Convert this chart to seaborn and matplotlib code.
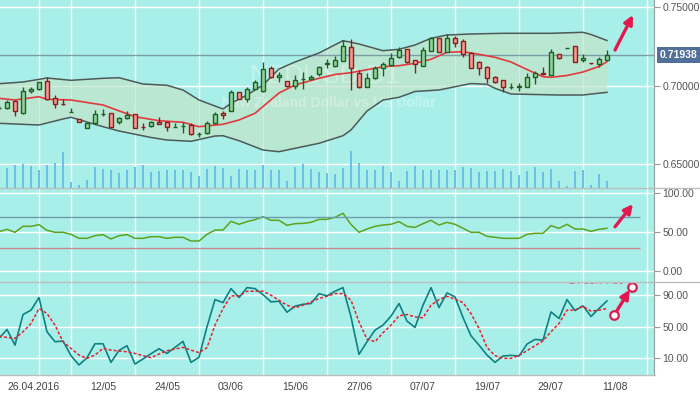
import numpy as np
import matplotlib
matplotlib.use("Agg")
import matplotlib.pyplot as plt
import seaborn as sns
from matplotlib.lines import Line2D

# NZDUSD daily candles, bar -1 is 25.04.2016, one bar per trading day
opens = [0.68560, 0.68563, 0.69027, 0.68245, 0.69644, 0.69772, 0.70280, 0.69199, 0.68830, 0.68320,
         0.67864, 0.67310, 0.67609, 0.68210, 0.68245, 0.67673, 0.67927, 0.68182, 0.67400, 0.67438,
         0.67673, 0.67692, 0.67385, 0.67430, 0.67520, 0.66920, 0.66973, 0.67609, 0.68245, 0.68410,
         0.69581, 0.69174, 0.69772, 0.69644, 0.71107, 0.70535, 0.70280, 0.69962, 0.70400, 0.70446,
         0.70747, 0.71410, 0.71234, 0.71552, 0.72443, 0.70789, 0.69937, 0.70471, 0.71107, 0.71298,
         0.71807, 0.72316, 0.71616, 0.71273, 0.72226, 0.73015, 0.72163, 0.73015, 0.72824, 0.72099,
         0.71527, 0.71209, 0.70573, 0.70344, 0.69930, 0.69935, 0.69937, 0.70535, 0.70808, 0.70662,
         0.72017, 0.72380, 0.72506, 0.71616, 0.71430, 0.71362, 0.71654]
highs = [0.68747, 0.69091, 0.69091, 0.69899, 0.69899, 0.70260, 0.70535, 0.69409, 0.69174, 0.68563,
         0.67880, 0.67640, 0.68455, 0.68538, 0.68260, 0.68029, 0.68410, 0.68200, 0.67647, 0.67775,
         0.68029, 0.67710, 0.67647, 0.67692, 0.67609, 0.67056, 0.67736, 0.68328, 0.68372, 0.69727,
         0.69590, 0.69899, 0.70363, 0.71508, 0.71253, 0.70853, 0.70300, 0.70700, 0.70872, 0.70681,
         0.71273, 0.71680, 0.71889, 0.72907, 0.72971, 0.70999, 0.70827, 0.71253, 0.71508, 0.72061,
         0.72443, 0.72330, 0.71630, 0.72481, 0.73117, 0.73040, 0.73270, 0.73161, 0.72952, 0.72120,
         0.71540, 0.71253, 0.70617, 0.70360, 0.70153, 0.70153, 0.70789, 0.70935, 0.71209, 0.72335,
         0.72030, 0.72410, 0.72520, 0.71997, 0.71440, 0.71807, 0.72271]
lows = [0.68455, 0.68519, 0.68092, 0.68230, 0.69555, 0.69750, 0.69120, 0.68601, 0.68773, 0.68310,
        0.67660, 0.67290, 0.67590, 0.68092, 0.67380, 0.67546, 0.67883, 0.67290, 0.67183, 0.67393,
        0.67546, 0.67100, 0.67355, 0.66973, 0.66895, 0.66757, 0.66960, 0.67590, 0.67864, 0.68400,
        0.69160, 0.68983, 0.69760, 0.69630, 0.70471, 0.70255, 0.69945, 0.69772, 0.69772, 0.70363,
        0.70617, 0.71107, 0.71220, 0.71540, 0.69727, 0.69835, 0.69899, 0.70427, 0.70617, 0.71280,
        0.71790, 0.71463, 0.70827, 0.71260, 0.72210, 0.72150, 0.72150, 0.72481, 0.71807, 0.71130,
        0.70700, 0.70153, 0.70200, 0.69600, 0.69810, 0.69644, 0.69899, 0.70090, 0.70710, 0.70650,
        0.71730, 0.72370, 0.71489, 0.71527, 0.71410, 0.71171, 0.71616]
closes = [0.68600, 0.68945, 0.68410, 0.69644, 0.69791, 0.70236, 0.69136, 0.68818, 0.68810, 0.68335,
          0.67673, 0.67609, 0.68182, 0.68230, 0.67393, 0.67946, 0.68137, 0.67310, 0.67385, 0.67673,
          0.67584, 0.67393, 0.67400, 0.67445, 0.66910, 0.66935, 0.67609, 0.68201, 0.68118, 0.69581,
          0.69174, 0.69772, 0.70236, 0.71044, 0.70535, 0.70662, 0.69962, 0.70344, 0.70415, 0.70573,
          0.71171, 0.71425, 0.71616, 0.72506, 0.71107, 0.69899, 0.70471, 0.71107, 0.71362, 0.71743,
          0.72252, 0.71508, 0.71362, 0.72271, 0.73015, 0.72163, 0.73015, 0.72735, 0.71997, 0.71145,
          0.71145, 0.70509, 0.70217, 0.69937, 0.69940, 0.69950, 0.70535, 0.70789, 0.70726, 0.72125,
          0.71743, 0.72400, 0.71527, 0.71743, 0.71420, 0.71680, 0.71938]
tick_volume = [0, 20, 22.7, 24.3, 21.7, 18.3, 23.3, 25, 36, 5.7, 3.3,
               8.3, 20.7, 19.3, 18.3, 15, 18.3, 20.7, 22.7, 16.3, 16.7,
               18.3, 18.3, 18.3, 16.3, 12.3, 19.3, 21.7, 20, 11.7, 19.3,
               17.7, 17.7, 22.7, 18.3, 18.3, 7.3, 20.7, 24.3, 19.3, 16.3,
               14.7, 14, 20, 37.3, 25, 17.7, 18.3, 21.7, 15.7, 6.7,
               17.3, 21.7, 18.3, 17.7, 17.7, 18.3, 18.3, 20.7, 20, 15.7,
               16.7, 16.7, 19.3, 16.7, 12.7, 16.7, 20.7, 16, 19.3, 6.7,
               2, 16.7, 17.7, 2.7, 14, 6.7]

# Bollinger bands, read at the bars where they bend
upper_bars = [-1, 2, 5, 8, 12, 14, 17, 20, 22, 24, 27, 28, 30, 32, 34, 36, 39, 42, 44, 47,
              49, 51, 53, 55, 58, 62, 68, 72, 73, 75]
upper_band = [0.70128, 0.70236, 0.70490, 0.70344, 0.70471, 0.70509, 0.70109, 0.70026, 0.69727, 0.69091,
              0.68519, 0.68881, 0.69409, 0.70045, 0.71063, 0.71508, 0.72080, 0.72863, 0.72653, 0.72227,
              0.72316, 0.72589, 0.73015, 0.73225, 0.73289, 0.73333, 0.73333, 0.73397, 0.73257, 0.72875]
mid_bars = [-1, 1, 4, 5, 8, 12, 16, 19, 22, 24, 27, 29, 31, 34, 36, 39, 41, 43, 47, 49,
            51, 53, 55, 57, 59, 61, 63, 65, 67, 68, 70, 72, 74, 75]
mid_band = [0.69199, 0.69091, 0.69301, 0.69136, 0.69091, 0.68773, 0.68029, 0.67775, 0.67673, 0.67393,
            0.67546, 0.67819, 0.68245, 0.69536, 0.70045, 0.70471, 0.70713, 0.70827, 0.71209, 0.71273,
            0.71425, 0.71680, 0.72125, 0.72163, 0.71997, 0.71807, 0.71508, 0.71031, 0.70573, 0.70535,
            0.70649, 0.70872, 0.71222, 0.71527]
lower_bars = [-1, 4, 7, 8, 12, 14, 18, 20, 23, 26, 27, 29, 32, 34, 36, 39, 42, 43, 45, 47,
              49, 51, 54, 58, 60, 61, 63, 69, 72, 75]
lower_band = [0.67609, 0.67501, 0.67883, 0.67991, 0.67393, 0.67119, 0.66706, 0.66547, 0.66464, 0.66801,
              0.66820, 0.66503, 0.65911, 0.65803, 0.66019, 0.66337, 0.66820, 0.67183, 0.68390, 0.69091,
              0.69263, 0.69632, 0.69727, 0.70140, 0.70090, 0.69835, 0.69473, 0.69409, 0.69409, 0.69581]

rsi = [50.8, 53.8, 50, 57.6, 57.6, 59.7, 52.5, 50, 50, 47.4, 42.3, 42.3, 45.7, 47, 41.5, 45.7,
       47, 42.3, 42.3, 44.4, 44.4, 42.3, 43.6, 43.6, 38.9, 38.9, 47.4, 52.9, 52.9, 64, 60.2, 63.6,
       66.1, 69.9, 65.3, 65.3, 58.9, 61, 61.4, 62.7, 66.5, 66.5, 69.1, 74.2, 60, 50, 54.2, 57.6,
       59.3, 60.2, 63.6, 57.6, 56.3, 61, 65.3, 59.3, 62.7, 60.2, 55.1, 50, 50, 44.9, 43.6, 42.3,
       42.3, 42.3, 47.4, 48.7, 48.7, 58.5, 55.1, 60.2, 54.2, 54.2, 51.2, 53.8, 55.1]
stoch_k = [35.3, 46.6, 26.8, 65.6, 71.1, 87.1, 43.7, 31.1, 31.9, 13.4, 1.6, 10.8, 28.5, 28.5, 4.9,
           20.1, 26, 2.8, 9.2, 15.9, 22.2, 16.3, 23.9, 31.5, 4.9, 11.3, 50, 84.5, 80.7, 98.4, 87.1,
           99.7, 98.4, 90.8, 81.6, 82.4, 68.5, 76.1, 78.6, 79.5, 92.1, 89.2, 95.1, 99.7, 62.6, 15.1,
           31.1, 45.8, 52.1, 63.5, 79.5, 57.2, 49.2, 77.4, 99.7, 74.4, 93, 87.9, 61.8, 38.6, 26.8,
           14.2, 4.9, 12.9, 13.8, 12.9, 28.1, 34, 33.2, 68.9, 60.5, 84.5, 70.6, 76.5, 63.1, 73.2, 82.8]
stoch_d = [38.2, 36.5, 35.3, 43.7, 54.2, 73.2, 66.8, 52.1, 31.1, 22.6, 14.2, 10, 14.2, 22.6, 20.5,
           19.3, 18.4, 16.3, 13.4, 10.8, 15.5, 19.7, 21.8, 23.9, 20.5, 17.2, 23.5, 52.1, 73.2, 89.2,
           89.2, 95.1, 95.1, 95.1, 90, 83.7, 77.4, 74, 77.4, 81.6, 85.8, 88.7, 92.1, 92.1, 83.7, 56.3,
           34.4, 31.1, 42.4, 52.1, 63.9, 65.6, 62.6, 61.4, 77.4, 84.5, 88.7, 85, 80.7, 66.8, 47.9,
           23.9, 13.4, 10, 10, 13.8, 19.7, 26, 32.3, 43.7, 54.2, 71.1, 71.1, 76.1, 69.8, 71.1, 73.2]

date_ticks = [0, 12, 20, 28, 36, 44, 52, 60, 68, 76]
date_labels = ["26.04.2016", "12/05", "24/05", "03/06", "15/06", "27/06", "07/07", "19/07", "29/07", "11/08"]

BG = "#a9efe9"
UP_FILL, UP_EDGE = "#8fd59b", "#1f5f24"
DN_FILL, DN_EDGE = "#f59a8e", "#8a1f1f"
ARROW = "#e0194f"

plt.rcParams["font.family"] = ["Liberation Sans", "DejaVu Sans"]

W, H = 700, 394
fig = plt.figure(figsize=(W / 100, H / 100), dpi=100)
fig.patch.set_facecolor("white")


def panel(y0, y1, **kw):
    return fig.add_axes([0, 1 - y1 / H, 654 / W, (y1 - y0) / H], **kw)


ax = panel(0, 188)
ax_rsi = panel(188, 282, sharex=ax)
ax_st = panel(282, 375, sharex=ax)

bars = np.arange(-1, len(closes) - 1)
o, h, l, c = map(np.array, (opens, highs, lows, closes))
up = c >= o

# bands
ax.fill(np.r_[upper_bars, lower_bars[::-1]], np.r_[upper_band, lower_band[::-1]],
        color="#c2e3c6", alpha=0.65, lw=0, zorder=1)
sns.lineplot(x=upper_bars, y=upper_band, ax=ax, color="#4d5a58", lw=1.1, zorder=2)
sns.lineplot(x=lower_bars, y=lower_band, ax=ax, color="#4d5a58", lw=1.1, zorder=2)
sns.lineplot(x=mid_bars, y=mid_band, ax=ax, color="#e2393c", lw=1.2, zorder=2.5)
ax.axhline(closes[-1], color="#7c9ca8", lw=1, zorder=1.8)

# candles
ax.vlines(bars, l, h, colors=np.where(up, UP_EDGE, DN_EDGE), lw=1, zorder=3)
ax.bar(bars, np.maximum(np.abs(c - o), 0.00004), bottom=np.minimum(o, c), width=0.62,
       color=np.where(up, UP_FILL, DN_FILL), edgecolor=np.where(up, UP_EDGE, DN_EDGE),
       lw=1, zorder=4)

ax.text(0.497, 0.60, "NZDUSD,D1", transform=ax.transAxes, fontsize=19, color="white",
        alpha=0.3, ha="center", va="center", zorder=1.5)
ax.text(0.502, 0.452, "New Zealand Dollar vs US Dollar", transform=ax.transAxes, fontsize=10,
        fontweight="bold", color="white", alpha=0.3, ha="center", va="center", zorder=1.5)

# volume in the bottom strip of the price panel
axv = ax.twinx()
axv.bar(bars, tick_volume, width=0.13, color="#6cc0e8", zorder=2)
axv.set_ylim(0, 188)
axv.set_yticks([])
for s in axv.spines.values():
    s.set_visible(False)

# RSI
sns.lineplot(x=bars, y=rsi, ax=ax_rsi, color="#5fa31d", lw=1.1)
ax_rsi.hlines(70, -1, 79.1, color="#6d9cae", lw=1)
ax_rsi.hlines(30, -1, 79.1, color="#c98a8c", lw=1)

# stochastic
sns.lineplot(x=bars, y=stoch_k, ax=ax_st, color="#0d8283", lw=1.2)
sns.lineplot(x=bars, y=stoch_d, ax=ax_st, color="#e8202a", lw=1.1, linestyle=(0, (2, 1.3)))
ax_st.text(73.7, 108, "2 / 55.7 / 80", color="#e0457a", fontsize=7.5, ha="center",
           va="center", clip_on=True)

# arrows
arrow = dict(arrowstyle="-|>", color=ARROW, lw=2.4, mutation_scale=13, shrinkA=0, shrinkB=0)
ax.annotate("", xy=(78.25, 0.7450), xytext=(76, 0.7227), arrowprops=arrow, annotation_clip=False)
ax_rsi.annotate("", xy=(78.25, 86), xytext=(76, 57), arrowprops=arrow, annotation_clip=False)
ax_st.annotate("", xy=(77.85, 97), xytext=(76.1, 68), arrowprops=arrow, annotation_clip=False)
ax_st.scatter([75.9, 78.1], [65, 100.5], s=38, facecolor="white", edgecolor=ARROW, lw=1.6, zorder=6)

# axes styling
limits = {ax: (0.63494, 0.75451), ax_rsi: (-13.4, 106.5), ax_st: (-11.1, 106.8)}
yticks = {ax: ([0.65, 0.70, 0.75], "{:.5f}"), ax_rsi: ([0, 50, 100], "{:.2f}"),
          ax_st: ([10, 50, 90], "{:.2f}")}
for a in (ax, ax_rsi, ax_st):
    a.set_facecolor(BG)
    a.set_ylim(*limits[a])
    ticks, fmt = yticks[a]
    a.set_yticks(ticks)
    a.set_yticklabels([fmt.format(t) for t in ticks])
    a.yaxis.tick_right()
    a.tick_params(axis="y", right=True, left=False, length=4, color="#9a9a9a",
                  labelsize=7.5, labelcolor="#555555", pad=2)
    a.set_xticks(range(0, 81, 4), minor=True)
    a.grid(True, which="minor", axis="x", color="white", lw=1)
    a.grid(True, which="major", axis="y", color="white", lw=1)
    a.set_axisbelow(True)
    a.set_xlabel("")
    a.set_ylabel("")
    for s in ("top", "left", "bottom"):
        a.spines[s].set_visible(False)
    a.spines["right"].set_color("#9a9a9a")

ax_st.set_xlim(-0.875, 80.875)
ax_st.set_xticks(date_ticks)
ax_st.set_xticklabels(date_labels)
ax_st.tick_params(axis="x", which="both", length=0, labelsize=7.5, labelcolor="#444444", pad=5)
ax_st.get_xticklabels()[0].set_ha("left")
ax.tick_params(axis="x", which="both", length=0, labelbottom=False)
ax_rsi.tick_params(axis="x", which="both", length=0, labelbottom=False)

ax.text(1.009, closes[-1], "{:.5f}".format(closes[-1]), transform=ax.get_yaxis_transform(),
        ha="left", va="center", color="white", fontsize=7.5, fontweight="bold",
        bbox=dict(boxstyle="square,pad=0.3", fc="#50709a", ec="none"), clip_on=False, zorder=10)

for y in (188, 282, 375):
    fig.add_artist(Line2D([0, 1 if y < 375 else 655 / W], [1 - y / H] * 2, color="#bdbdbd", lw=1))

fig.savefig("out.png", dpi=100, facecolor="white")
